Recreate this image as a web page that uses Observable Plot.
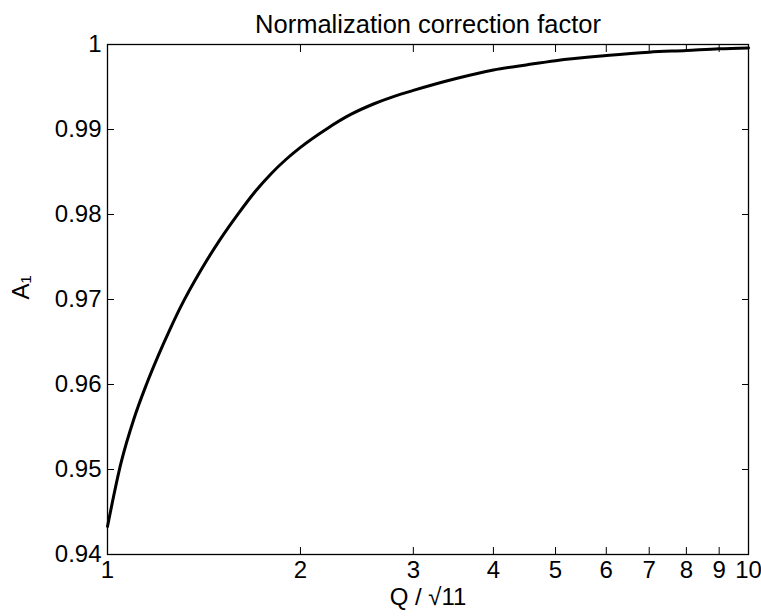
<!DOCTYPE html>
<html>
<head>
<meta charset="utf-8">
<script src="https://cdn.jsdelivr.net/npm/d3@7"></script>
<script src="https://cdn.jsdelivr.net/npm/@observablehq/plot@0.6"></script>
<style>
  html, body { margin: 0; padding: 0; background: #fff; }
  svg { font-family: "Liberation Sans", Arial, Helvetica, sans-serif; }
</style>
</head>
<body>
<div id="chart"></div>
<script>
const titleText = "Normalization correction factor";
const xLabel = "Q / \u221A11";
const yLabel = "A\u2081";
const qValues = [1, 1.05, 1.1, 1.15, 1.2, 1.25, 1.3, 1.4, 1.5, 1.6, 1.7, 1.8, 1.9, 2, 2.2, 2.4, 2.6, 2.8, 3, 3.5, 4, 4.5, 5, 6, 7, 8, 9, 10];
const aValues = [0.9433, 0.9508, 0.9560, 0.9600, 0.9634, 0.9664, 0.9691, 0.9735, 0.9771, 0.9801, 0.9827, 0.9848, 0.9865, 0.9879, 0.9901, 0.9918, 0.9930, 0.9939, 0.9946, 0.9960, 0.9970, 0.9976, 0.9981, 0.9987, 0.9991, 0.9993, 0.9995, 0.9996];
const xTicks = [1, 2, 3, 4, 5, 6, 7, 8, 9, 10];
const yTicks = [0.94, 0.95, 0.96, 0.97, 0.98, 0.99, 1];
const yTickLabels = ["0.94", "0.95", "0.96", "0.97", "0.98", "0.99", "1"];

const data = qValues.map((q, i) => ({q, a: aValues[i]}));

const chart = Plot.plot({
  width: 761,
  height: 616,
  marginLeft: 107,
  marginRight: 13,
  marginTop: 44,
  marginBottom: 62,
  style: {fontSize: "24px", fontFamily: "'Liberation Sans', Arial, Helvetica, sans-serif", background: "#fff", color: "#000"},
  x: {type: "log", domain: [1, 10]},
  y: {domain: [0.94, 1]},
  marks: [
    Plot.axisX({anchor: "bottom", ticks: xTicks, tickFormat: d => String(d), tickSize: -7, tickPadding: 13, label: null}),
    Plot.axisX({anchor: "top", ticks: xTicks, tickFormat: () => "", tickSize: -7, label: null}),
    Plot.axisY({anchor: "left", ticks: yTicks, tickFormat: d => yTickLabels[yTicks.indexOf(d)] ?? "", tickSize: -7, tickPadding: 13, label: null}),
    Plot.axisY({anchor: "right", ticks: yTicks, tickFormat: () => "", tickSize: -7, label: null}),
    Plot.frame({stroke: "#000", strokeWidth: 1.3}),
    Plot.line(data, {x: "q", y: "a", stroke: "#000", strokeWidth: 3, curve: "monotone-x"}),
    Plot.text([titleText], {text: d => d, frameAnchor: "top", dy: -30, fontSize: 25.5}),
    Plot.text([xLabel], {text: d => d, frameAnchor: "bottom", dy: 50, fontSize: 24}),
    Plot.text([yLabel], {text: d => d, frameAnchor: "left", dx: -86, rotate: -90, fontSize: 24})
  ]
});
document.getElementById("chart").appendChild(chart);
</script>
</body>
</html>
